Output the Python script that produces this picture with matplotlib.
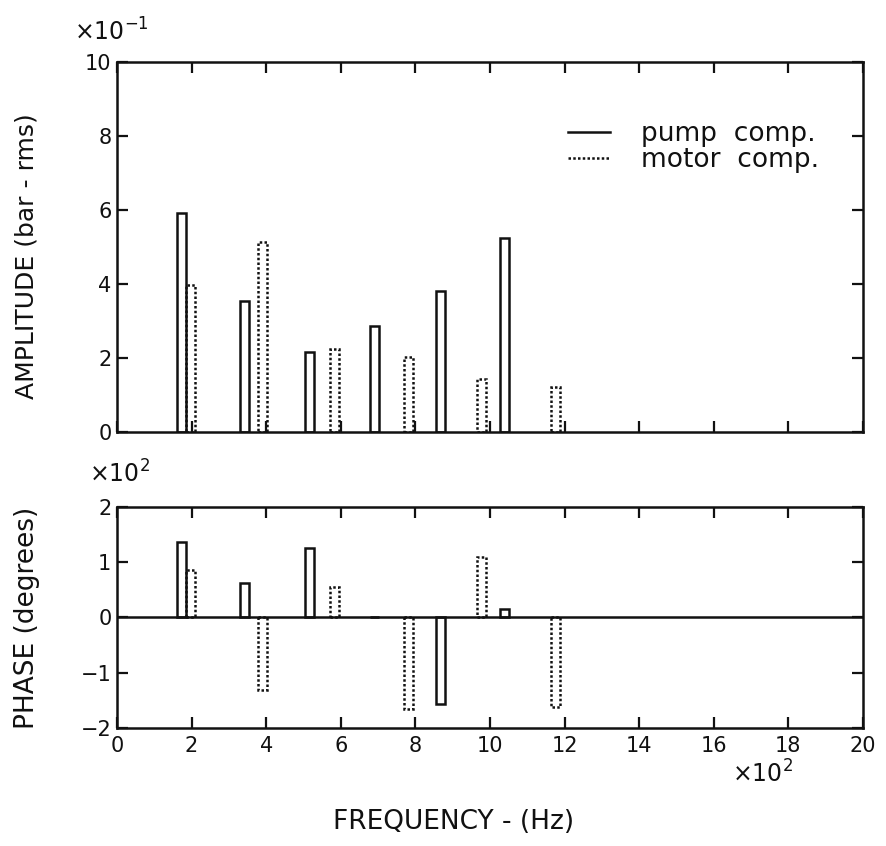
import matplotlib
matplotlib.use("Agg")
import matplotlib.pyplot as plt
from matplotlib.lines import Line2D
from matplotlib.ticker import FuncFormatter, MultipleLocator

# ---- data ----
pump_freq = [172, 343, 515, 690, 867, 1039]          # Hz
pump_amp = [0.592, 0.354, 0.216, 0.286, 0.381, 0.524]  # bar rms
pump_phase = [137, 62, 126, 0, -157, 15]              # degrees

motor_freq = [196, 391, 584, 781, 977, 1176]          # Hz
motor_amp = [0.397, 0.513, 0.224, 0.203, 0.143, 0.122]
motor_phase = [86, -131, 55, -166, 110, -162]

legend_labels = ["pump  comp.", "motor  comp."]

plt.rcParams['font.family'] = ['DejaVu Sans']
INK = '#111111'

fig = plt.figure(figsize=(8.86, 8.46), dpi=100)
ax1 = fig.add_axes([0.132, 0.4894, 0.842, 0.4373])
ax2 = fig.add_axes([0.132, 0.1395, 0.842, 0.2612])

bw = 24
lw = 1.8
dot = (0, (1.0, 0.9))

ax1.bar(pump_freq, pump_amp, width=bw, fill=False, edgecolor=INK, linewidth=lw)
ax1.bar(motor_freq, motor_amp, width=bw, fill=False, edgecolor=INK, linewidth=lw, linestyle=dot)

ax2.bar(pump_freq, pump_phase, width=bw, fill=False, edgecolor=INK, linewidth=lw)
ax2.bar(motor_freq, motor_phase, width=bw, fill=False, edgecolor=INK, linewidth=lw, linestyle=dot)
ax2.axhline(0, color=INK, linewidth=1.8)

for ax in (ax1, ax2):
    ax.set_xlim(0, 2000)
    ax.xaxis.set_major_locator(MultipleLocator(200))
    ax.tick_params(direction='in', length=8, width=1.6, top=True, right=True,
                   labelsize=15, pad=4, colors=INK)
    for s in ax.spines.values():
        s.set_linewidth(1.8)
        s.set_color(INK)

ax1.set_ylim(0, 1.0)
ax1.yaxis.set_major_locator(MultipleLocator(0.2))
ax1.yaxis.set_major_formatter(FuncFormatter(lambda v, p: f"{v*10:.0f}"))
ax1.tick_params(axis='x', labelbottom=False)

ax2.set_ylim(-200, 200)
ax2.yaxis.set_major_locator(MultipleLocator(100))
ax2.yaxis.set_major_formatter(FuncFormatter(lambda v, p: f"{v/100:.0f}".replace('-', '\u2212')))
ax2.xaxis.set_major_formatter(FuncFormatter(lambda v, p: f"{v/100:.0f}"))
ax2.tick_params(axis='x', pad=6)

# labels
fig.text(0.030, 0.697, "AMPLITUDE (bar - rms)", rotation=90, ha='center', va='center',
         fontsize=18, color=INK)
fig.text(0.031, 0.27, "PHASE (degrees)", rotation=90, ha='center', va='center',
         fontsize=19, color=INK)
fig.text(0.512, 0.028, "FREQUENCY - (Hz)", ha='center', va='center',
         fontsize=19, color=INK)

# multipliers
fig.text(0.084, 0.962, r"$\times$10$^{-1}$", ha='left', va='center', fontsize=17, color=INK)
fig.text(0.100, 0.440, r"$\times$10$^{2}$", ha='left', va='center', fontsize=17, color=INK)
fig.text(0.826, 0.085, r"$\times$10$^{2}$", ha='left', va='center', fontsize=17, color=INK)

handles = [Line2D([], [], color=INK, linewidth=1.8),
           Line2D([], [], color=INK, linewidth=1.8, linestyle=dot)]
ax1.legend(handles, legend_labels, loc='upper left', bbox_to_anchor=(0.573, 0.905),
           frameon=False, fontsize=19, handlelength=1.6, handletextpad=1.15,
           labelspacing=0.0, labelcolor=INK)

fig.savefig("out.png", dpi=100, facecolor='white')
